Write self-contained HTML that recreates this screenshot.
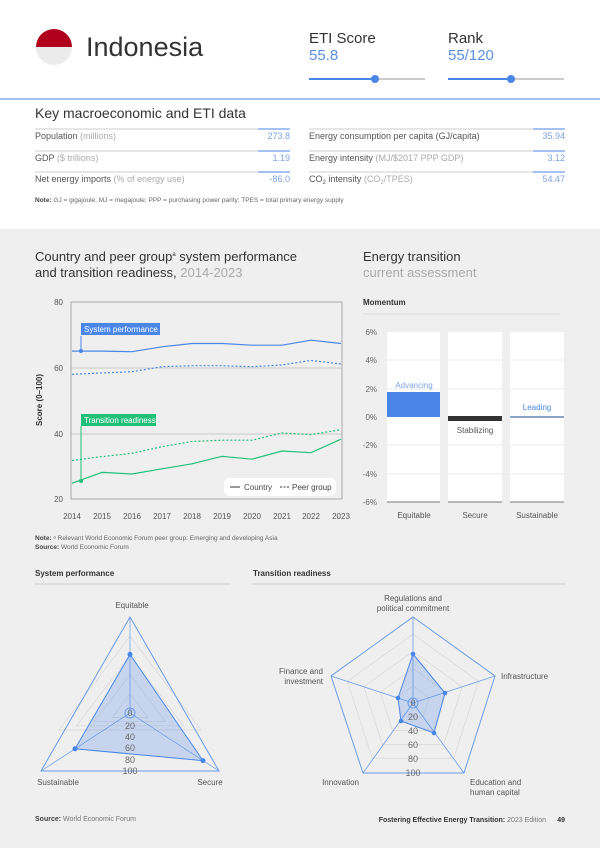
<!DOCTYPE html><html><head><meta charset="utf-8"><style>
body{margin:0;width:600px;height:848px;position:relative;font-family:"Liberation Sans",sans-serif;background:#fff;overflow:hidden;color:#333}
.a{position:absolute;white-space:nowrap}
</style></head><body>
<div class="a" style="left:0;top:229px;width:600px;height:619px;background:#efefef"></div>
<svg class="a" style="left:0;top:0" width="600" height="848" font-family="Liberation Sans, sans-serif">
<clipPath id="fc"><circle cx="54" cy="47" r="18"/></clipPath>
<rect x="36" y="29" width="36" height="18" fill="#b1001d" clip-path="url(#fc)"/>
<rect x="36" y="47" width="36" height="18" fill="#ebebeb" clip-path="url(#fc)"/>
<text x="86" y="56" font-size="27" fill="#333">Indonesia</text>
<text x="309" y="43" font-size="15" fill="#333">ETI Score</text>
<text x="309" y="60" font-size="15" fill="#5b8fe6">55.8</text>
<text x="448" y="43" font-size="15" fill="#333">Rank</text>
<text x="448" y="60" font-size="15" fill="#5b8fe6">55/120</text>
<line x1="309" y1="79" x2="425" y2="79" stroke="#ccc" stroke-width="2"/>
<line x1="309" y1="79" x2="375" y2="79" stroke="#4a86e8" stroke-width="2"/>
<circle cx="375" cy="79" r="4" fill="#4a86e8"/>
<line x1="448" y1="79" x2="564" y2="79" stroke="#ccc" stroke-width="2"/>
<line x1="448" y1="79" x2="511" y2="79" stroke="#4a86e8" stroke-width="2"/>
<circle cx="511" cy="79" r="4" fill="#4a86e8"/>
<line x1="0" y1="99" x2="600" y2="99" stroke="#6c9be8" stroke-width="1.2"/>
<text x="35" y="118" font-size="14" fill="#333">Key macroeconomic and ETI data</text>
<g font-size="9" fill="#555">
<line x1="35" y1="129" x2="290" y2="129" stroke="#ccc"/><line x1="258" y1="129" x2="290" y2="129" stroke="#4a86e8"/>
<line x1="309" y1="129" x2="565" y2="129" stroke="#ccc"/><line x1="533" y1="129" x2="565" y2="129" stroke="#4a86e8"/>
<line x1="35" y1="151" x2="290" y2="151" stroke="#ccc"/><line x1="258" y1="151" x2="290" y2="151" stroke="#4a86e8"/>
<line x1="309" y1="151" x2="565" y2="151" stroke="#ccc"/><line x1="533" y1="151" x2="565" y2="151" stroke="#4a86e8"/>
<line x1="35" y1="172" x2="290" y2="172" stroke="#ccc"/><line x1="258" y1="172" x2="290" y2="172" stroke="#4a86e8"/>
<line x1="309" y1="172" x2="565" y2="172" stroke="#ccc"/><line x1="533" y1="172" x2="565" y2="172" stroke="#4a86e8"/>
<text x="35" y="139">Population <tspan fill="#aaa">(millions)</tspan></text>
<text x="290" y="139" text-anchor="end" fill="#7ea3e6">273.8</text>
<text x="309" y="139">Energy consumption per capita (GJ/capita)</text>
<text x="565" y="139" text-anchor="end" fill="#7ea3e6">35.94</text>
<text x="35" y="161">GDP <tspan fill="#aaa">($ trillions)</tspan></text>
<text x="290" y="161" text-anchor="end" fill="#7ea3e6">1.19</text>
<text x="309" y="161">Energy intensity <tspan fill="#aaa">(MJ/$2017 PPP GDP)</tspan></text>
<text x="565" y="161" text-anchor="end" fill="#7ea3e6">3.12</text>
<text x="35" y="182">Net energy imports <tspan fill="#aaa">(% of energy use)</tspan></text>
<text x="290" y="182" text-anchor="end" fill="#7ea3e6">-86.0</text>
<text x="309" y="182">CO<tspan font-size="6" dy="2">2</tspan><tspan dy="-2"> intensity </tspan><tspan fill="#aaa">(CO<tspan font-size="6" dy="2">2</tspan><tspan dy="-2">/TPES)</tspan></tspan></text>
<text x="565" y="182" text-anchor="end" fill="#7ea3e6">54.47</text>
</g>
<text x="35" y="202" font-size="6.5" fill="#666"><tspan font-weight="bold" fill="#444">Note:</tspan> GJ = gigajoule; MJ = megajoule; PPP = purchasing power parity; TPES = total primary energy supply</text>
</svg>
<svg class="a" style="left:0;top:229px" width="600" height="619" font-family="Liberation Sans, sans-serif">
<g transform="translate(0,-229)">
<text x="35" y="261" font-size="13" fill="#333">Country and peer group<tspan font-size="6" dy="-5">a</tspan><tspan dy="5"> system performance</tspan></text>
<text x="35" y="277" font-size="13" fill="#333">and transition readiness, <tspan fill="#aaa">2014-2023</tspan></text>
<text x="363" y="261" font-size="13" fill="#333">Energy transition</text>
<text x="363" y="277" font-size="13" fill="#aaa">current assessment</text>
<line x1="71" y1="368" x2="342" y2="368" stroke="#bbb" stroke-width="0.8"/>
<line x1="71" y1="434" x2="342" y2="434" stroke="#bbb" stroke-width="0.8"/>
<rect x="71" y="302" width="271" height="197" fill="none" stroke="#999" stroke-width="0.8"/>
<g font-size="8" fill="#555" text-anchor="end"><text x="63" y="305">80</text><text x="63" y="371">60</text><text x="63" y="437">40</text><text x="63" y="502">20</text></g>
<text font-size="8" font-weight="bold" fill="#333" transform="translate(42,400) rotate(-90)" text-anchor="middle">Score (0–100)</text>
<g font-size="8" fill="#555" text-anchor="middle">
<text x="72" y="519">2014</text><text x="102" y="519">2015</text><text x="132" y="519">2016</text><text x="162" y="519">2017</text><text x="192" y="519">2018</text><text x="222" y="519">2019</text><text x="252" y="519">2020</text><text x="282" y="519">2021</text><text x="311" y="519">2022</text><text x="341" y="519">2023</text></g>
<polyline fill="none" stroke="#4a86e8" stroke-width="1.2" points="72,351.1 102,351.1 132,351.7 162,346.8 192,343.5 222,343.5 252,345.2 282,345.2 311,340.2 341,343.5"/>
<polyline fill="none" stroke="#4a86e8" stroke-width="1.2" stroke-dasharray="2,2" points="72,374.3 102,373 132,371.7 162,366.7 192,365.7 222,365.7 252,366.7 282,365 311,360.4 341,364"/>
<polyline fill="none" stroke="#21c07a" stroke-width="1.2" points="72,483.2 102,472.4 132,474 162,468.8 192,463.8 222,456.3 252,459.2 282,451 311,452.7 341,439.2"/>
<polyline fill="none" stroke="#21c07a" stroke-width="1.2" stroke-dasharray="2,2" points="72,460.5 102,456.6 132,453.3 162,446.7 192,441.5 222,440.2 252,440.2 282,433 311,434.6 341,429.7"/>
<line x1="81" y1="336" x2="81" y2="351" stroke="#4a86e8"/><circle cx="81" cy="351" r="2" fill="#4a86e8"/>
<rect x="81" y="323" width="79" height="12" fill="#4a86e8"/>
<text x="84" y="332" font-size="8" fill="#fff">System performance</text>
<line x1="81" y1="426" x2="81" y2="481" stroke="#21c07a"/><circle cx="81" cy="481" r="2" fill="#21c07a"/>
<rect x="81" y="414" width="75" height="12" fill="#21c07a"/>
<text x="84" y="423" font-size="8" fill="#fff">Transition readiness</text>
<rect x="224" y="478" width="112" height="18" rx="6" fill="#fff"/>
<line x1="230" y1="487" x2="240" y2="487" stroke="#333"/><text x="244" y="490" font-size="8" fill="#444">Country</text>
<line x1="280" y1="487" x2="290" y2="487" stroke="#333" stroke-dasharray="2,1.5"/><text x="292" y="490" font-size="8" fill="#444">Peer group</text>
<text x="363" y="305" font-size="8" font-weight="bold" fill="#333">Momentum</text>
<line x1="363" y1="314" x2="560" y2="314" stroke="#ddd"/>
<rect x="387" y="332" width="53" height="170" fill="#fff"/><rect x="448" y="332" width="54" height="170" fill="#fff"/><rect x="510" y="332" width="54" height="170" fill="#fff"/>
<g stroke="#efefef" stroke-width="1.2"><line x1="385" y1="360" x2="566" y2="360"/><line x1="385" y1="389" x2="566" y2="389"/><line x1="385" y1="445" x2="566" y2="445"/><line x1="385" y1="474" x2="566" y2="474"/></g>
<g stroke="#777"><line x1="387" y1="502" x2="440" y2="502"/><line x1="448" y1="502" x2="502" y2="502"/><line x1="510" y1="502" x2="564" y2="502"/></g>
<g font-size="8" fill="#666" text-anchor="end"><text x="377" y="335">6%</text><text x="377" y="363">4%</text><text x="377" y="392">2%</text><text x="377" y="420">0%</text><text x="377" y="448">-2%</text><text x="377" y="477">-4%</text><text x="377" y="505">-6%</text></g>
<rect x="387" y="392" width="53" height="25" fill="#4a86e8"/>
<text x="414" y="388" font-size="8" fill="#7ea3e6" text-anchor="middle">Advancing</text>
<rect x="448" y="416" width="54" height="5" fill="#333"/>
<text x="475" y="433" font-size="8" fill="#555" text-anchor="middle">Stabilizing</text>
<line x1="510" y1="417" x2="564" y2="417" stroke="#4a6fa8" stroke-width="1.2"/>
<text x="537" y="410" font-size="8" fill="#4a86e8" text-anchor="middle">Leading</text>
<g font-size="8" fill="#555" text-anchor="middle"><text x="414" y="518">Equitable</text><text x="475" y="518">Secure</text><text x="537" y="518">Sustainable</text></g>
<text x="35" y="540" font-size="6.5" fill="#666"><tspan font-weight="bold" fill="#444">Note:</tspan> ᵃ Relevant World Economic Forum peer group: Emerging and developing Asia</text>
<text x="35" y="549" font-size="6.5" fill="#666"><tspan font-weight="bold" fill="#444">Source:</tspan> World Economic Forum</text>
<text x="35" y="576" font-size="8" font-weight="bold" fill="#333">System performance</text>
<line x1="35" y1="584" x2="231" y2="584" stroke="#ccc"/>
<text x="253" y="576" font-size="8" font-weight="bold" fill="#333">Transition readiness</text>
<line x1="252" y1="584" x2="565" y2="584" stroke="#ccc"/>
<g fill="none" stroke="#d8d8d8" stroke-width="0.7">
<polygon points="130,693.8 112.2,717.4 147.8,717.4"/>
<polygon points="130,674.6 94.4,721.6 165.6,721.6"/>
<polygon points="130,655.4 76.6,725.8 183.4,725.8"/>
<polygon points="130,636.2 58.8,730 201.2,730"/>
<line x1="130" y1="713" x2="130" y2="617" stroke="#6c9be8"/><line x1="130" y1="713" x2="41" y2="771" stroke="#6c9be8"/><line x1="130" y1="713" x2="219" y2="771" stroke="#6c9be8"/>
</g>
<polygon points="130,617 41,771 219,771" fill="none" stroke="#6c9be8" stroke-width="1"/>
<polygon points="130,654.4 75,748.8 203,760.6" fill="rgba(74,134,232,0.25)" stroke="#4a86e8" stroke-width="1"/>
<g fill="#4a86e8"><circle cx="130" cy="654.4" r="2.5"/><circle cx="75" cy="748.8" r="2.5"/><circle cx="203" cy="760.6" r="2.5"/></g>
<g font-size="9" fill="#666" text-anchor="middle"><circle cx="130" cy="713" r="5" fill="none" stroke="#6c9be8"/><text x="130" y="716">0</text><text x="130" y="729">20</text><text x="130" y="740">40</text><text x="130" y="751">60</text><text x="130" y="763">80</text><text x="130" y="774">100</text></g>
<g font-size="8" fill="#555" text-anchor="middle"><text x="132" y="608">Equitable</text><text x="58" y="785">Sustainable</text><text x="210" y="785">Secure</text></g>
<g fill="none" stroke="#d8d8d8" stroke-width="0.7">
<polygon points="413,685.8 429.4,697.6 423.2,716.8 402.8,716.8 396.6,697.6"/>
<polygon points="413,668.6 445.8,692.2 433.4,730.6 392.6,730.6 380.2,692.2"/>
<polygon points="413,651.4 462.2,686.8 443.6,744.4 382.4,744.4 363.8,686.8"/>
<polygon points="413,634.2 478.6,681.4 453.8,758.2 372.2,758.2 347.4,681.4"/>
</g>
<g stroke="#6c9be8" stroke-width="0.8"><line x1="413" y1="703" x2="413" y2="617"/><line x1="413" y1="703" x2="495" y2="676"/><line x1="413" y1="703" x2="464" y2="773"/><line x1="413" y1="703" x2="363" y2="773"/><line x1="413" y1="703" x2="331" y2="676"/></g>
<polygon points="413,617 495,676 464,773 363,773 331,676" fill="none" stroke="#6c9be8" stroke-width="1"/>
<polygon points="413,654 445,693 434,733 401,721 398,698" fill="rgba(74,134,232,0.25)" stroke="#4a86e8" stroke-width="1"/>
<g fill="#4a86e8"><circle cx="413" cy="654" r="2.3"/><circle cx="445" cy="693" r="2.3"/><circle cx="434" cy="733" r="2.3"/><circle cx="401" cy="721" r="2.3"/><circle cx="398" cy="698" r="2.3"/></g>
<g font-size="9" fill="#666" text-anchor="middle"><circle cx="413" cy="703" r="5" fill="none" stroke="#6c9be8"/><text x="413" y="706">0</text><text x="413" y="720">20</text><text x="413" y="734">40</text><text x="413" y="748">60</text><text x="413" y="762">80</text><text x="413" y="776">100</text></g>
<g font-size="8" fill="#555"><text x="413" y="601" text-anchor="middle">Regulations and</text><text x="413" y="611" text-anchor="middle">political commitment</text>
<text x="501" y="679">Infrastructure</text>
<text x="323" y="674" text-anchor="end">Finance and</text><text x="323" y="684" text-anchor="end">investment</text>
<text x="470" y="785">Education and</text><text x="470" y="795">human capital</text>
<text x="359" y="785" text-anchor="end">Innovation</text></g>
<text x="35" y="821" font-size="7" fill="#777"><tspan font-weight="bold" fill="#444">Source:</tspan> World Economic Forum</text>
<text x="546" y="822" font-size="7" fill="#777" text-anchor="end"><tspan font-weight="bold" fill="#333">Fostering Effective Energy Transition:</tspan> 2023 Edition</text>
<text x="565" y="822" font-size="7" font-weight="bold" fill="#333" text-anchor="end">49</text>
</g>
</svg>
</body></html>
